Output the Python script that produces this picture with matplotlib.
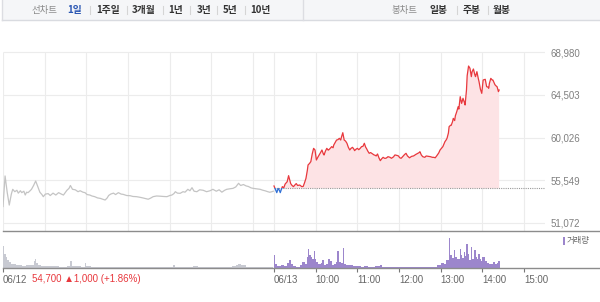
import matplotlib
matplotlib.use('Agg')
import matplotlib.pyplot as plt
import numpy as np
from matplotlib.patches import Rectangle
from matplotlib.lines import Line2D

# ---------------- data ----------------
# minutes since 06/12 09:00 (06/13 09:00 = 390), compressed trading-day axis
prev_t = [0, 3, 6, 9, 12, 14, 17, 20, 22, 25, 27, 30, 32, 34, 36, 39, 41, 44, 47, 50,
          53, 56, 58, 61, 65, 68, 72, 76, 80, 84, 87, 90, 92, 95, 97, 100, 104, 108, 111, 115,
          118, 121, 125, 128, 132, 136, 140, 144, 147, 150, 152, 155, 159, 162, 166, 170, 173, 178, 183, 187,
          192, 196, 200, 204, 209, 213, 216, 221, 226, 231, 236, 240, 243, 246, 248, 251, 255, 259, 262, 266,
          269, 272, 275, 279, 283, 288, 293, 298, 302, 307, 311, 315, 319, 322, 326, 331, 335, 339, 342, 346,
          350, 353, 357, 360, 365, 370, 374, 377, 381, 384, 387, 389]
prev_p = [52800, 56000, 54300, 52950, 54100, 54600, 54350, 54500, 54200, 54450, 54250, 54400, 54000, 54300, 54250, 54450, 54600, 55000, 55470, 54900,
          54300, 54050, 53830, 54100, 54150, 53950, 54200, 54000, 54250, 54100, 54000, 54300, 54500, 54700, 55000, 54600, 54550, 54350, 54450, 54300,
          54250, 54050, 54000, 53900, 53830, 53700, 53650, 53550, 53480, 53700, 53950, 54100, 54200, 54050, 54250, 54100, 54070, 53950, 53930, 53850,
          53830, 53780, 53720, 53650, 53560, 53700, 53830, 53900, 53880, 53850, 53830, 53950, 54000, 54150, 54350, 54200, 54180, 54350, 54300, 54600,
          54450, 54770, 54400, 54350, 54550, 54500, 54350, 54450, 54600, 54400, 54550, 54300, 54500, 54600, 54650, 54700, 54850, 55230, 55000, 55100,
          54950, 54900, 54750, 54700, 54650, 54600, 54500, 54450, 54350, 54290, 54350, 54400]

today_t = [390, 392, 394, 396, 398, 399, 402, 404, 406, 409, 411, 413, 414, 416, 418, 420, 422, 424, 427, 430,
           432, 434, 436, 438, 439, 441, 443, 445, 447, 449, 451, 453, 455, 457, 459, 461, 462, 464, 466, 468,
           469, 471, 473, 475, 476, 478, 480, 482, 484, 486, 487, 489, 491, 493, 495, 497, 499, 501, 503, 505,
           506, 508, 510, 512, 514, 516, 518, 520, 522, 523, 525, 527, 529, 530, 532, 534, 536, 537, 539, 541,
           543, 545, 547, 549, 551, 553, 554, 557, 559, 562, 564, 567, 569, 571, 573, 576, 578, 580, 582, 585,
           588, 591, 594, 597, 599, 600, 602, 604, 607, 609, 612, 615, 618, 620, 622, 624, 627, 629, 631, 633,
           635, 636, 638, 639, 641, 642, 644, 645, 647, 648, 650, 651, 653, 655, 656, 658, 660, 662, 664, 665,
           667, 668, 670, 672, 674, 675, 677, 679, 680, 682, 684, 685, 687, 689, 691, 693, 694, 696, 698, 699,
           700, 702, 704, 705, 707, 708, 710, 711, 713, 714]
today_p = [54950, 54600, 54250, 54700, 54450, 54250, 54880, 54750, 55150, 55400, 56030, 55500, 55200, 55000, 54880, 55050, 55200, 55000, 55050, 54880,
           54900, 55300, 55750, 56600, 57150, 57300, 57500, 58300, 58890, 58720, 57670, 57950, 58190, 58450, 58720, 58300, 58190, 58600, 58890, 58700,
           58750, 58900, 59070, 58950, 59240, 59500, 59760, 59800, 59940, 59760, 60050, 60530, 59760, 59650, 59420, 59000, 58720, 58900, 58996, 58800,
           58650, 58800, 58890, 58750, 58890, 59070, 59100, 59420, 59000, 58890, 58600, 58370, 58450, 58400, 58300, 58200, 58150, 58090, 58300, 57900,
           57600, 57800, 57950, 57850, 57850, 57950, 58020, 57950, 57850, 58000, 58200, 58150, 58100, 57900, 57850, 58100, 58250, 58370, 58100, 57900,
           58050, 58100, 58250, 58370, 58450, 58540, 58200, 58020, 57950, 58090, 58050, 58020, 57950, 57950, 57900, 58090, 58400, 58720, 58900, 59070,
           59400, 59590, 59800, 59940, 60500, 61160, 61300, 61300, 61700, 62030, 61800, 62300, 62730, 63250, 63000, 64300, 63600, 64130, 63700, 63430,
           65000, 66500, 67510, 67280, 66400, 66900, 67200, 66600, 66400, 66920, 66200, 65900, 65100, 64650, 66050, 66100, 66120, 65350, 65300, 65180,
           65700, 66220, 66050, 66050, 65700, 65550, 65400, 65350, 64830, 65000]

prev_close = 54700
y_ticks = [51072, 55549, 60026, 64503, 68980]
x_ticks = [0, 390, 450, 510, 570, 630, 690, 750]
x_labels = ['06/12', '06/13', '10:00', '11:00', '12:00', '13:00', '14:00', '15:00']
grid_x = [0, 60, 120, 180, 240, 300, 360, 390, 450, 510, 570, 630, 690, 750]

prev_vol_t = [0, 2, 4, 6, 8, 11, 14, 18, 22, 27, 33, 40, 44, 46, 48, 51, 55, 62, 70, 80,
              92, 97, 99, 104, 112, 118, 120, 126, 140, 160, 180, 200, 220, 240, 244, 247, 255, 270, 273, 280,
              300, 320, 330, 335, 338, 342, 350, 365, 380, 389]
prev_vol = [61, 40, 30, 22, 17, 12, 10, 8, 7, 6, 7, 9, 20, 26, 15, 9, 6, 5, 5, 4,
            5, 19, 6, 5, 4, 14, 5, 4, 4, 3, 4, 3, 3, 3, 8, 4, 3, 3, 6, 3,
            3, 4, 6, 8, 12, 7, 4, 3, 3, 0]

today_vol_t = [390, 392, 395, 400, 405, 409, 411, 414, 418, 422, 427, 430, 434, 437, 439, 441, 443, 445, 447, 449,
               451, 454, 457, 459, 462, 465, 468, 470, 473, 476, 479, 481, 483, 486, 489, 491, 494, 498, 503, 510,
               515, 520, 525, 530, 536, 542, 545, 552, 560, 570, 580, 590, 600, 610, 620, 625, 630, 634, 638, 642,
               644, 646, 649, 651, 654, 657, 659, 661, 663, 665, 667, 669, 671, 673, 675, 678, 680, 682, 684, 686,
               688, 690, 693, 696, 699, 702, 705, 708, 711, 713, 715]
today_vol = [37, 11, 6, 8, 6, 14, 21, 11, 6, 4, 8, 17, 11, 31, 54, 35, 31, 25, 46, 25,
             17, 11, 14, 21, 8, 11, 24, 19, 8, 11, 17, 46, 17, 14, 56, 12, 8, 9, 6, 6,
             4, 6, 3, 4, 6, 9, 4, 3, 2, 4, 2, 3, 3, 3, 4, 8, 14, 11, 22, 84,
             35, 28, 49, 31, 25, 54, 35, 28, 44, 33, 68, 39, 22, 58, 25, 49, 31, 25, 40, 25,
             19, 31, 19, 14, 11, 12, 17, 11, 14, 19, 0]

# ---------------- styling ----------------
RED = '#e8383d'
BLUE = '#2f6fd6'
GREY_LINE = '#c4c4c4'
GRID = '#ececec'
PURPLE = '#9c86cc'
VOL_GREY = '#c8cad2'
KR = ['Noto Sans CJK KR', 'DejaVu Sans']
NUM = ['Liberation Sans', 'DejaVu Sans']

W, H = 600, 302
fig = plt.figure(figsize=(6, 3.02), dpi=100)
fig.patch.set_facecolor('white')

def fx(px):
    return px / W

def fy(py):
    return 1 - py / H

# ---------------- toolbar ----------------
fig.patches.append(Rectangle((fx(2), fy(20)), 1 - fx(2), fy(0) - fy(20), transform=fig.transFigure,
                             facecolor='#f5f6f8', edgecolor='none', zorder=0))
fig.lines.append(Line2D([fx(2), 1], [fy(20), fy(20)], transform=fig.transFigure, color='#d9dbe0', lw=1))
fig.lines.append(Line2D([fx(2), fx(2)], [fy(0), fy(20)], transform=fig.transFigure, color='#dcdde2', lw=1))
fig.lines.append(Line2D([fx(303), fx(303)], [fy(0), fy(20)], transform=fig.transFigure, color='#dcdde2', lw=1))

fig.text(fx(32), fy(10), '선차트', family=KR, fontsize=6.8, color='#8a8a8a', va='center', ha='left')
left_items = [('1일', 67, '#2b57b3'), ('1주일', 96, '#333333'), ('3개월', 132, '#333333'),
              ('1년', 168, '#333333'), ('3년', 197, '#333333'), ('5년', 223, '#333333'), ('10년', 250, '#333333')]
for lab, x, c in left_items:
    fig.text(fx(x), fy(10), lab, family=KR, fontsize=7, color=c, fontweight='bold', va='center', ha='left')
for x in [90, 127, 163, 190, 217, 245]:
    fig.lines.append(Line2D([fx(x), fx(x)], [fy(6), fy(14)], transform=fig.transFigure, color='#d5d5d5', lw=0.8))

fig.text(fx(392), fy(10), '봉차트', family=KR, fontsize=6.8, color='#8a8a8a', va='center', ha='left')
for lab, x in [('일봉', 430), ('주봉', 463), ('월봉', 493)]:
    fig.text(fx(x), fy(10), lab, family=KR, fontsize=7, color='#333333', fontweight='bold', va='center', ha='left')
for x in [457, 488]:
    fig.lines.append(Line2D([fx(x), fx(x)], [fy(6), fy(14)], transform=fig.transFigure, color='#d5d5d5', lw=0.8))

# ---------------- main price axes ----------------
Y_TOP_PX, Y_BOT_PX = 25, 231
px_per_val = (223 - 52) / (68980 - 51072)
ylo = 51072 - (Y_BOT_PX - 223) / px_per_val
yhi = 68980 + (52 - Y_TOP_PX) / px_per_val

ax = fig.add_axes([fx(3), fy(Y_BOT_PX), fx(545) - fx(3), fy(Y_TOP_PX) - fy(Y_BOT_PX)])
ax.set_xlim(0, 780)
ax.set_ylim(ylo, yhi)
ax.set_facecolor('none')
for s in ax.spines.values():
    s.set_visible(False)

ax.hlines(y_ticks, 0, 780, color=GRID, lw=0.8, zorder=0)
ax.vlines(grid_x, ylo, y_ticks[-1], color=GRID, lw=0.8, zorder=0)

ax.yaxis.tick_right()
ax.set_yticks(y_ticks)
ax.set_yticklabels([f'{v:,}' for v in y_ticks], family=NUM, fontsize=7, color='#808080')
ax.tick_params(axis='y', length=0, pad=4)
ax.set_xticks([])

tp = np.array(today_p, dtype=float)
tt = np.array(today_t, dtype=float)
ax.fill_between(tt, tp, prev_close, where=tp >= prev_close, interpolate=True,
                color='#fde3e5', lw=0, zorder=1)
ax.fill_between(tt, tp, prev_close, where=tp < prev_close, interpolate=True,
                color='#dfe8f8', lw=0, zorder=1)
ax.hlines(prev_close, 390, 780, color='#9a9a9a', lw=0.8, linestyles=(0, (1, 1)), zorder=2)

ax.plot(prev_t, prev_p, color=GREY_LINE, lw=0.9, zorder=3)
red_line, = ax.plot(tt, tp, color=RED, lw=0.9, zorder=4)
blue_line, = ax.plot(tt, tp, color=BLUE, lw=0.9, zorder=4)
red_line.set_clip_path(Rectangle((0, prev_close), 800, 40000, transform=ax.transData))
blue_line.set_clip_path(Rectangle((0, prev_close - 40000), 800, 40000, transform=ax.transData))

fig.lines.append(Line2D([fx(3), 1], [fy(231), fy(231)], transform=fig.transFigure, color='#8c8c8c', lw=1))

# ---------------- volume axes ----------------
vax = fig.add_axes([fx(3), fy(268), fx(545) - fx(3), fy(232) - fy(268)])
vax.set_xlim(0, 780)
vax.set_ylim(0, 100)
vax.set_facecolor('none')
for s in vax.spines.values():
    s.set_visible(False)
vax.fill_between(prev_vol_t, prev_vol, 0, step='post', color=VOL_GREY, lw=0)
vax.fill_between(today_vol_t, today_vol, 0, step='post', color=PURPLE, lw=0)
vax.set_yticks([])
vax.set_xticks(x_ticks)
vax.set_xticklabels(x_labels, family=NUM, fontsize=7, color='#666666')
for lbl in vax.get_xticklabels():
    lbl.set_horizontalalignment('left')
vax.tick_params(axis='x', length=3, width=0.8, color='#777777', pad=2)
fig.lines.append(Line2D([fx(3), 1], [fy(268), fy(268)], transform=fig.transFigure, color='#8c8c8c', lw=1))

# volume legend
fig.patches.append(Rectangle((fx(563), fy(245)), fx(2), fy(237) - fy(245), transform=fig.transFigure,
                             facecolor=PURPLE, edgecolor='none'))
fig.text(fx(567), fy(241), '거래량', family=KR, fontsize=6, color='#666666', va='center', ha='left')

# previous close info
fig.text(fx(32), fy(279.5), f'{prev_close:,} ▲1,000 (+1.86%)', family=NUM, fontsize=7,
         color='#e8383d', va='center', ha='left')

fig.savefig('out.png', dpi=100)
